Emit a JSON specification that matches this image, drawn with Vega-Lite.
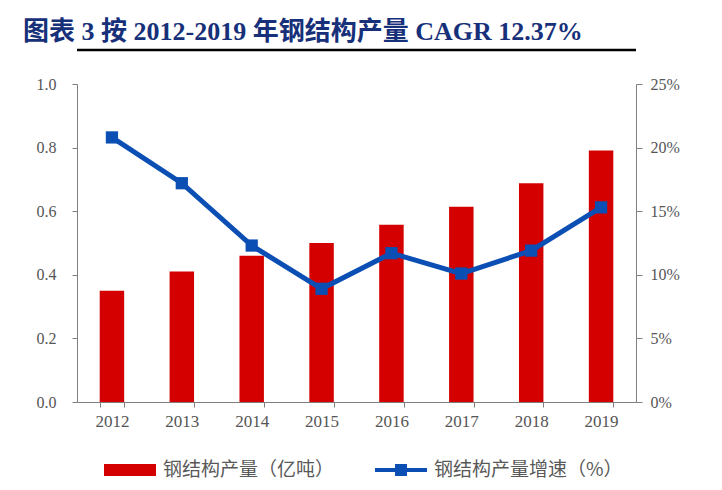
{
  "$schema": "https://vega.github.io/schema/vega-lite/v6.json",
  "width": 559,
  "height": 318,
  "autosize": {"type": "none"},
  "padding": {"left": 77, "top": 84, "right": 86, "bottom": 88},
  "background": "white",
  "title": {
    "text": "图表 3 按 2012-2019 年钢结构产量 CAGR 12.37%",
    "anchor": "start",
    "frame": "group",
    "dx": -54,
    "dy": 24,
    "offset": 7,
    "baseline": "alphabetic",
    "font": "Liberation Serif, Noto Sans CJK SC",
    "fontSize": 26,
    "fontWeight": "bold",
    "color": "#17307a"
  },
  "data": {
    "values": [
      {"year": "2012", "output": 0.35, "growth": 20.8},
      {"year": "2013", "output": 0.41, "growth": 17.2},
      {"year": "2014", "output": 0.46, "growth": 12.3},
      {"year": "2015", "output": 0.5, "growth": 8.9},
      {"year": "2016", "output": 0.557, "growth": 11.7},
      {"year": "2017", "output": 0.614, "growth": 10.1},
      {"year": "2018", "output": 0.688, "growth": 11.9},
      {"year": "2019", "output": 0.791, "growth": 15.3}
    ]
  },
  "layer": [
    {
      "layer": [
        {
          "mark": {"type": "bar", "color": "#d40000"},
          "encoding": {
            "x": {
              "field": "year",
              "type": "ordinal",
              "scale": {"paddingInner": 0.65, "paddingOuter": 0.325},
              "axis": {
                "title": null,
                "labelAngle": 0,
                "tickBand": "extent",
                "tickSize": 5,
                "labelPadding": 6,
                "labelFont": "Liberation Serif",
                "labelFontSize": 17,
                "labelColor": "#555555",
                "domainColor": "#7f7f7f",
                "tickColor": "#7f7f7f"
              }
            },
            "y": {
              "field": "output",
              "type": "quantitative",
              "scale": {"domain": [0, 1]},
              "axis": {
                "title": null,
                "values": [0, 0.2, 0.4, 0.6, 0.8, 1],
                "format": ".1f",
                "grid": false,
                "tickSize": 5,
                "labelPadding": 16,
                "labelFont": "Liberation Serif",
                "labelFontSize": 16,
                "labelColor": "#555555",
                "domainColor": "#7f7f7f",
                "tickColor": "#7f7f7f"
              }
            },
            "color": {
              "datum": "钢结构产量（亿吨）",
              "scale": {
                "domain": ["钢结构产量（亿吨）", "钢结构产量增速（%）"],
                "range": ["#d40000", "#0b4fb5"]
              },
              "legend": {
                "orient": "none",
                "legendX": 27,
                "legendY": 360,
                "direction": "horizontal",
                "title": null,
                "symbolSize": 2704,
                "labelFont": "Noto Sans CJK SC",
                "labelFontSize": 19,
                "labelLimit": 400,
                "labelColor": "#595959",
                "labelOffset": 7,
                "columnPadding": 40,
                "encode": {
                  "symbols": {
                    "update": {
                      "shape": {"signal": "datum.value === '钢结构产量（亿吨）' ? 'M-1,-0.23H1V0.23H-1Z' : 'M-1,-0.08H1V0.08H-1Z M-0.23,-0.23H0.23V0.23H-0.23Z'"},
                      "fill": {"signal": "datum.value === '钢结构产量（亿吨）' ? '#d40000' : '#0b4fb5'"},
                      "stroke": {"value": "transparent"},
                      "strokeWidth": {"value": 0},
                      "opacity": {"value": 1}
                    }
                  }
                }
              }
            }
          }
        },
        {
          "data": {"values": [{}]},
          "mark": {"type": "rule", "clip": false, "color": "#000000", "strokeWidth": 2.5},
          "encoding": {"y": {"datum": 1.107}}
        }
      ]
    },
    {
      "layer": [
        {
          "mark": {"type": "line", "strokeWidth": 5},
          "encoding": {
            "x": {"field": "year", "type": "ordinal"},
            "y": {
              "field": "growth",
              "type": "quantitative",
              "scale": {"domain": [0, 25]},
              "axis": {
                "orient": "right",
                "title": null,
                "values": [0, 5, 10, 15, 20, 25],
                "labelExpr": "datum.value + '%'",
                "grid": false,
                "tickSize": 6,
                "labelPadding": 8,
                "labelFont": "Liberation Serif",
                "labelFontSize": 16,
                "labelColor": "#555555",
                "domainColor": "#7f7f7f",
                "tickColor": "#7f7f7f"
              }
            },
            "color": {"datum": "钢结构产量增速（%）"}
          }
        },
        {
          "mark": {"type": "point", "shape": "square", "filled": true, "size": 150, "opacity": 1},
          "encoding": {
            "x": {"field": "year", "type": "ordinal"},
            "y": {"field": "growth", "type": "quantitative", "scale": {"domain": [0, 25]}},
            "color": {"datum": "钢结构产量增速（%）"}
          }
        }
      ]
    }
  ],
  "resolve": {"scale": {"y": "independent"}},
  "config": {"view": {"stroke": null}}
}
